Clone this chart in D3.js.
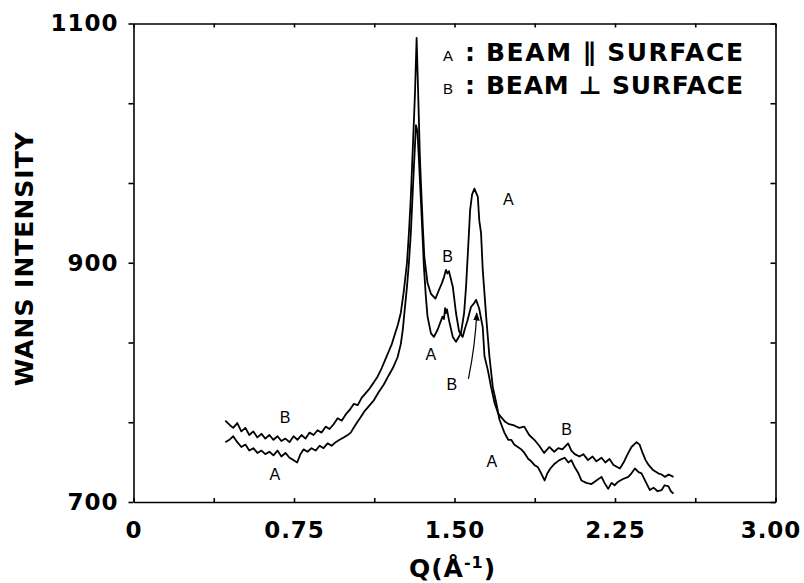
<!DOCTYPE html>
<html>
<head>
<meta charset="utf-8">
<script src="https://cdn.jsdelivr.net/npm/d3@7"></script>
<style>
  body { margin: 0; background: #fff; }
  .tick text { font: bold 23px "DejaVu Sans"; letter-spacing: 1px; fill: #000; }
  .axis path, .axis line { stroke: #000; stroke-width: 1.6; }
  .curve { fill: none; stroke: #000; stroke-width: 1.8; stroke-linejoin: round; }
  .tag { font: 16px "Liberation Sans", Arial; fill: #000; text-anchor: middle; }
  .big { font: bold 25px "DejaVu Sans"; fill: #000; }
</style>
</head>
<body>
<script>
// series B: beam perpendicular to surface (upper trace at low Q)
const qB = [0.429,0.452,0.466,0.485,0.504,0.523,0.541,0.560,0.579,0.598,0.616,0.635,0.654,0.673,0.691,0.710,0.729,0.748,0.766,0.785,
  0.804,0.823,0.841,0.860,0.879,0.898,0.916,0.935,0.954,0.973,0.991,1.010,1.029,1.048,1.066,1.085,1.104,1.123,1.141,1.160,
  1.179,1.193,1.207,1.221,1.235,1.249,1.263,1.278,1.287,1.296,1.305,1.315,1.323,1.332,1.338,1.343,1.352,1.359,1.374,1.390,
  1.411,1.427,1.441,1.451,1.460,1.467,1.474,1.492,1.507,1.521,1.538,1.549,1.561,1.577,1.591,1.601,1.615,1.632,1.640,1.656,
  1.671,1.687,1.704,1.718,1.737,1.755,1.779,1.802,1.826,1.849,1.873,1.896,1.919,1.943,1.966,1.985,2.004,2.031,2.046,2.062,
  2.084,2.102,2.124,2.145,2.163,2.187,2.205,2.224,2.243,2.273,2.290,2.309,2.327,2.351,2.365,2.379,2.393,2.407,2.426,2.452,
  2.468,2.483,2.501,2.523];
const iB = [768,764,762,766,759,762,756,759,754,757,753,756,752,755,751,753,750,755,752,756,
  753,758,756,760,758,763,761,765,770,768,773,777,782,781,787,791,795,800,805,812,
  820,826,832,840,848,858,876,900,925,955,995,1040,1088,1030,990,967,930,905,883,874,
  870,877,883,888,894,891,893,880,858,843,838,845,852,863,866,869,862,846,822,810,
  796,783,774,771,767,765,764,762,763,756,752,747,741,746,742,745,744,749,743,740,
  738,740,735,738,734,737,733,736,731,728,733,740,746,750,748,741,735,731,727,724,
  723,721,723,721];

// series A: beam parallel to surface
const qA = [0.429,0.448,0.466,0.485,0.504,0.523,0.541,0.560,0.579,0.598,0.616,0.635,0.654,0.673,0.691,0.710,0.729,0.748,0.765,0.780,
  0.795,0.813,0.832,0.851,0.870,0.888,0.907,0.926,0.945,0.963,0.982,1.001,1.015,1.029,1.043,1.062,1.080,1.099,1.123,1.146,
  1.169,1.193,1.212,1.234,1.249,1.259,1.268,1.278,1.287,1.296,1.305,1.313,1.320,1.327,1.334,1.343,1.350,1.357,1.366,1.374,
  1.390,1.404,1.421,1.444,1.451,1.456,1.460,1.465,1.474,1.492,1.507,1.530,1.545,1.554,1.563,1.573,1.582,1.593,1.609,1.616,
  1.624,1.632,1.648,1.663,1.679,1.695,1.710,1.733,1.751,1.765,1.779,1.796,1.812,1.827,1.845,1.859,1.873,1.890,1.905,1.921,
  1.934,1.948,1.968,1.990,2.015,2.032,2.046,2.062,2.079,2.093,2.116,2.140,2.163,2.187,2.201,2.218,2.234,2.248,2.265,2.285,
  2.312,2.327,2.343,2.360,2.374,2.393,2.413,2.430,2.449,2.468,2.482,2.500,2.511,2.523];
const iA = [750,752,755,750,746,748,743,745,741,743,740,742,739,743,738,741,737,735,733,740,
  744,742,745,743,747,745,749,747,750,752,754,756,758,762,766,771,776,780,785,792,
  798,806,812,821,832,845,862,880,900,925,960,990,1015,1010,985,952,925,897,872,855,
  841,838,844,855,853,862,858,861,852,838,834,841,858,880,910,944,957,962,955,935,
  925,894,855,822,796,783,769,758,752,752,748,746,744,741,736,734,731,729,724,718,
  724,728,732,735,737,733,735,729,724,718,716,715,718,721,716,711,716,714,717,719,
  721,724,728,725,724,717,710,712,709,710,714,713,709,707];

// axis ticks
const xTickValues = [0, 0.375, 0.75, 1.125, 1.5, 1.875, 2.25, 2.625, 3.0];
const xTickLabels = {0: '0', 0.75: '0.75', 1.5: '1.50', 2.25: '2.25', 3: '3.00'};
const yTickValues = [700, 766.67, 833.33, 900, 966.67, 1033.33, 1100];
const yTickLabels = {700: '700', 900: '900', 1100: '1100'};

// letters written next to the traces
const tagText = ['B', 'A', 'B', 'A', 'A', 'B', 'B', 'A'];
const tagQ = [0.708, 0.661, 1.468, 1.389, 1.751, 1.487, 2.024, 1.674];
const tagI = [766, 718.4, 900.7, 818.7, 948.3, 793.6, 756, 729.3];

const width = 804, height = 583;
const m = { left: 133.5, right: 775.5, top: 23.5, bottom: 502 };

const svg = d3.select('body').append('svg')
  .attr('width', width)
  .attr('height', height);

const x = d3.scaleLinear().domain([0, 3]).range([m.left, m.right]);
const y = d3.scaleLinear().domain([700, 1100]).range([m.bottom, m.top]);

const xAxis = svg.append('g')
  .attr('class', 'axis')
  .attr('transform', `translate(0,${m.bottom})`)
  .call(d3.axisBottom(x).tickValues(xTickValues).tickSizeInner(-4).tickSizeOuter(0).tickPadding(20)
    .tickFormat(d => xTickLabels[d] || ''));
// last label sits a little inside the frame edge
xAxis.selectAll('.tick text').filter(d => d === 3).attr('dx', -5);

svg.append('g')
  .attr('class', 'axis')
  .attr('transform', `translate(0,${m.top})`)
  .call(d3.axisTop(x).tickValues(xTickValues).tickSizeInner(-4).tickSizeOuter(0).tickFormat(''));

svg.append('g')
  .attr('class', 'axis')
  .attr('transform', `translate(${m.left},0)`)
  .call(d3.axisLeft(y).tickValues(yTickValues).tickSizeInner(5).tickSizeOuter(0).tickPadding(10)
    .tickFormat(d => yTickLabels[Math.round(d)] || ''));

svg.append('g')
  .attr('class', 'axis')
  .attr('transform', `translate(${m.right},0)`)
  .call(d3.axisRight(y).tickValues(yTickValues).tickSizeInner(-5).tickSizeOuter(0).tickFormat(''));

const line = d3.line()
  .x(d => x(d[0]))
  .y(d => y(d[1]));

svg.append('path').attr('class', 'curve').attr('d', line(d3.zip(qB, iB)));
svg.append('path').attr('class', 'curve').attr('d', line(d3.zip(qA, iA)));

svg.selectAll('.tag')
  .data(tagText)
  .enter()
  .append('text')
  .attr('class', 'tag')
  .attr('x', (d, i) => x(tagQ[i]))
  .attr('y', (d, i) => y(tagI[i]))
  .text(d => d);

// arrow from the lower "B" up to the B peak
svg.append('defs').append('marker')
  .attr('id', 'head')
  .attr('viewBox', '0 0 10 10')
  .attr('refX', 9).attr('refY', 5)
  .attr('markerWidth', 7).attr('markerHeight', 7)
  .attr('orient', 'auto')
  .append('path')
  .attr('d', 'M0,1L10,5L0,9Z')
  .attr('fill', '#000');

svg.append('path')
  .attr('d', `M${x(1.565)},${y(803)} Q${x(1.597)},${y(831)} ${x(1.604)},${y(858)}`)
  .attr('fill', 'none')
  .attr('stroke', '#000')
  .attr('stroke-width', 1.2)
  .attr('marker-end', 'url(#head)');

// legend
const legend = [['A', 'BEAM \u2225 SURFACE', 61], ['B', 'BEAM \u22A5 SURFACE', 94]];
legend.forEach(([k, txt, base]) => {
  svg.append('text').attr('x', 448).attr('y', base)
    .attr('text-anchor', 'middle')
    .style('font', '15px "Liberation Sans", Arial').text(k);
  svg.append('text').attr('class', 'big').attr('x', 470).attr('y', base)
    .attr('text-anchor', 'middle').text(':');
  svg.append('text').attr('class', 'big').attr('x', 486).attr('y', base)
    .attr('textLength', 257).attr('lengthAdjust', 'spacing').text(txt);
});

// axis titles
svg.append('text')
  .attr('class', 'big')
  .attr('text-anchor', 'middle')
  .attr('transform', `translate(33,${(m.top + m.bottom) / 2 - 4}) rotate(-90)`)
  .style('letter-spacing', '1px')
  .text('WANS INTENSITY');

const qt = svg.append('text')
  .attr('class', 'big')
  .attr('text-anchor', 'middle')
  .attr('x', (m.left + m.right) / 2 - 2)
  .attr('y', 577)
  .style('font-size', '25px')
  .style('letter-spacing', '1px');
qt.append('tspan').text('Q(Å');
qt.append('tspan').attr('dy', -9).style('font-size', '16px').text('-1');
qt.append('tspan').attr('dy', 9).text(')');
</script>
</body>
</html>
